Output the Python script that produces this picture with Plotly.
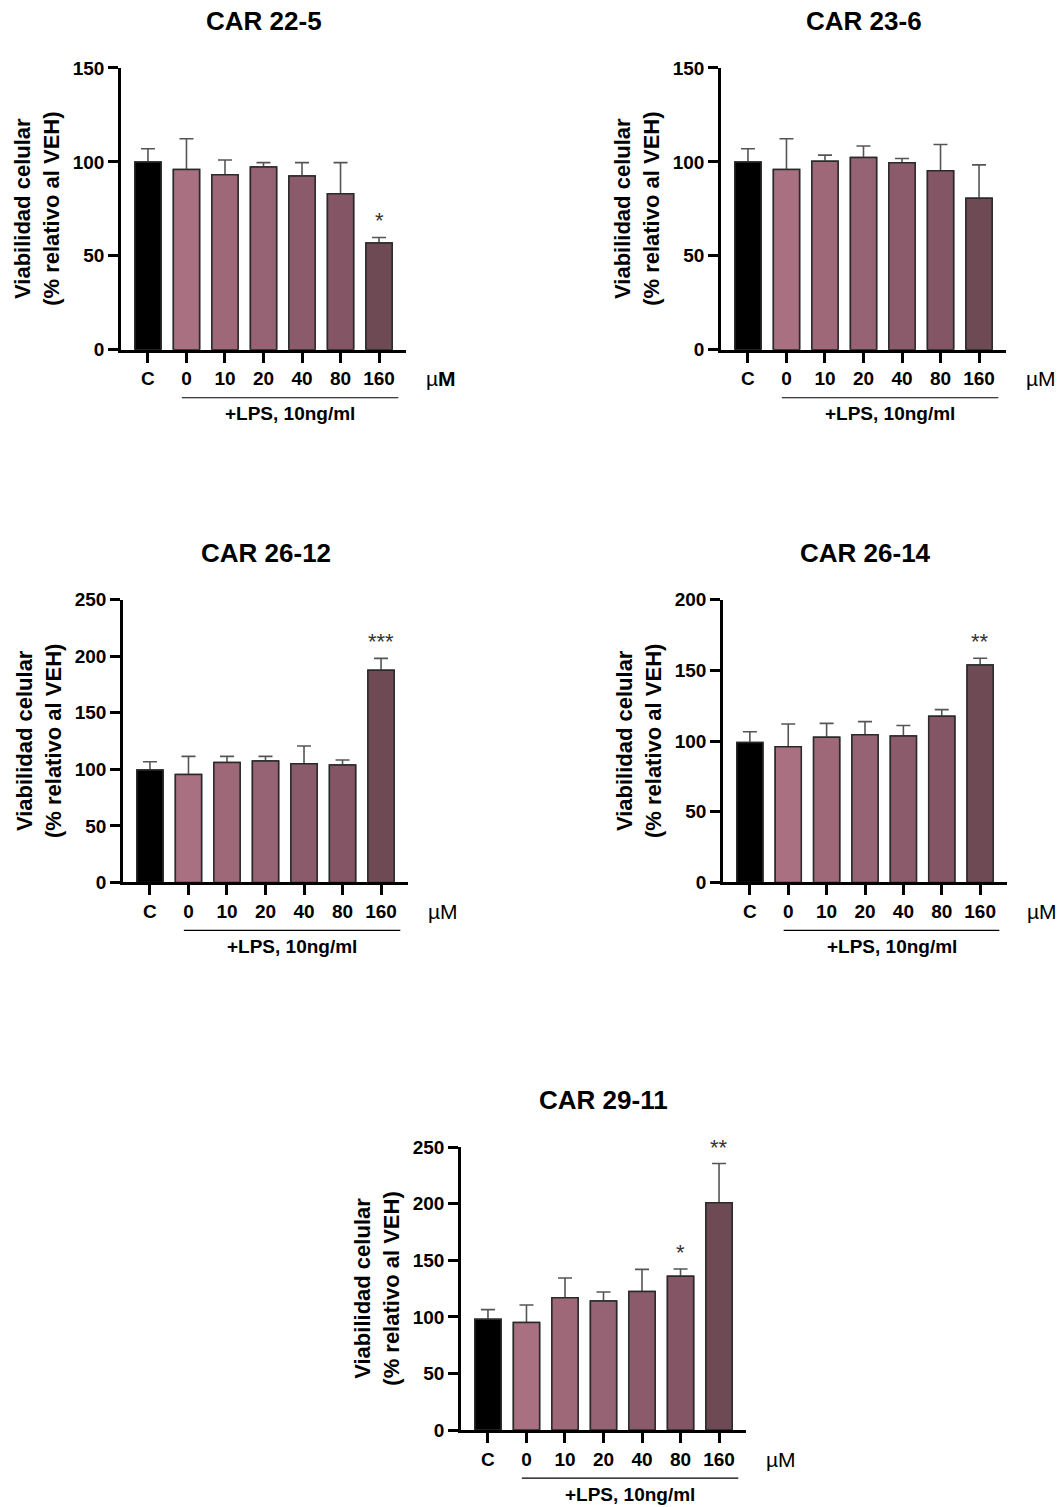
import plotly.graph_objects as go

# ---------------- data ----------------
categories = ["C", "0", "10", "20", "40", "80", "160"]
panel_titles = ["CAR 22-5", "CAR 23-6", "CAR 26-12", "CAR 26-14", "CAR 29-11"]

car22_5_mean = [100, 96, 93.2, 97.3, 92.5, 83, 56.8]
car22_5_sem = [7, 16.3, 7.8, 2.3, 7.1, 16.6, 3.0]
car22_5_sig = ["", "", "", "", "", "", "*"]

car23_6_mean = [100, 96, 100.4, 102.3, 99.5, 95.3, 80.6]
car23_6_sem = [7, 16.3, 3.2, 6.2, 2.3, 14, 17.8]
car23_6_sig = ["", "", "", "", "", "", ""]

car26_12_mean = [99.4, 95.5, 106.1, 107.3, 105, 103.8, 187.5]
car26_12_sem = [7.3, 15.9, 5.3, 4.1, 15.6, 4.4, 10.6]
car26_12_sig = ["", "", "", "", "", "", "***"]

car26_14_mean = [99, 96, 102.6, 104.5, 103.5, 117.5, 153.8]
car26_14_sem = [7.6, 16, 9.9, 9.2, 7.5, 4.7, 4.7]
car26_14_sig = ["", "", "", "", "", "", "**"]

car29_11_mean = [97.9, 95, 117, 114.1, 122.4, 135.9, 200.9]
car29_11_sem = [8.6, 15.6, 17.4, 7.9, 19.7, 6.5, 34.7]
car29_11_sig = ["", "", "", "", "", "*", "**"]

y_max = [150, 150, 250, 200, 250]
y_step = [50, 50, 50, 50, 50]

bar_colors = ["#000000", "#A87080", "#9E6879", "#956373", "#8B5B6B", "#835565", "#6E4A55"]

# ---------------- layout geometry (target pixels) ----------------
W = 1062
HF = 1540
Y0, YS = 9.0, 0.987   # observed page offset / scale of the rendered figure
boxes = [  # left, top, right, bottom of plot area
    (121, 67, 406, 349),
    (721, 67, 1006, 349),
    (123, 599, 408, 882),
    (723, 599, 1007, 882),
    (461, 1147, 746, 1430),
]
FONT = "Liberation Sans, Arial, sans-serif"

def px(x):
    return x / W

def py(y):
    return 1 - ((y - Y0) / YS) / HF

means = [car22_5_mean, car23_6_mean, car26_12_mean, car26_14_mean, car29_11_mean]
sems = [car22_5_sem, car23_6_sem, car26_12_sem, car26_14_sem, car29_11_sem]
sigs = [car22_5_sig, car23_6_sig, car26_12_sig, car26_14_sig, car29_11_sig]

fig = go.Figure()
annotations = []
shapes = []
xs = list(range(len(categories)))

for i in range(5):
    l, t, r, b = boxes[i]
    xa = "x" if i == 0 else f"x{i+1}"
    ya = "y" if i == 0 else f"y{i+1}"
    xkey = "xaxis" if i == 0 else f"xaxis{i+1}"
    ykey = "yaxis" if i == 0 else f"yaxis{i+1}"

    # error bars (symmetric, lower half hidden by the bar trace drawn on top)
    fig.add_trace(go.Bar(
        x=xs, y=means[i], width=0.68, xaxis=xa, yaxis=ya,
        marker=dict(color=bar_colors, line=dict(color="#2a2a2a", width=1.5)),
        error_y=dict(type="data", array=sems[i], visible=True,
                     color="#555555", thickness=1.6, width=7),
        showlegend=False, hoverinfo="skip",
    ))
    fig.add_trace(go.Bar(
        x=xs, y=means[i], width=0.68, xaxis=xa, yaxis=ya,
        marker=dict(color=bar_colors, line=dict(color="#2a2a2a", width=1.5)),
        showlegend=False,
    ))

    fig.update_layout(**{
        xkey: dict(domain=[px(l), px(r)], anchor=ya, range=[-0.7, 6.7],
                   tickvals=xs, ticktext=categories, showline=True,
                   linecolor="black", linewidth=2.5, ticks="outside",
                   ticklen=10, tickwidth=2.5, tickcolor="black",
                   showgrid=False, zeroline=False,
                   tickfont=dict(family=FONT, size=19, color="black", weight="bold")),
        ykey: dict(domain=[py(b), py(t)], anchor=xa, range=[0, y_max[i]],
                   dtick=y_step[i], tick0=0, showline=True,
                   linecolor="black", linewidth=2.5, ticks="outside",
                   ticklen=10, tickwidth=2.5, tickcolor="black",
                   showgrid=False, zeroline=False,
                   tickfont=dict(family=FONT, size=19, color="black", weight="bold")),
    })

    cx = (l + r) / 2
    # panel title
    annotations.append(dict(text="<b>" + panel_titles[i] + "</b>", x=px(cx), y=py(t - 47),
                            xref="paper", yref="paper", showarrow=False,
                            font=dict(family=FONT, size=26, color="black"),
                            xanchor="center", yanchor="middle"))
    # y-axis title
    annotations.append(dict(text="<b>Viabilidad celular<br>(% relativo al VEH)</b>",
                            x=px(l - 84), y=py((t + b) / 2), xref="paper", yref="paper",
                            showarrow=False, textangle=-90,
                            font=dict(family=FONT, size=22, color="black"),
                            xanchor="center", yanchor="middle"))
    # µM unit
    unit = "µ<b>M</b>" if i == 0 else "µM"
    annotations.append(dict(text=unit, x=px(r + 35), y=py(b + 29), xref="paper", yref="paper",
                            showarrow=False, font=dict(family=FONT, size=21, color="black"),
                            xanchor="center", yanchor="middle"))
    # LPS bracket
    shapes.append(dict(type="line", xref=xa, yref="paper", x0=0.88, x1=6.5,
                       y0=py(b + 48), y1=py(b + 48), line=dict(color="black", width=1.2)))
    annotations.append(dict(text="<b>+LPS, 10ng/ml</b>", xref=xa, yref="paper", x=3.7,
                            y=py(b + 64), showarrow=False,
                            font=dict(family=FONT, size=19, color="black"),
                            xanchor="center", yanchor="middle"))
    # significance stars
    for j, s in enumerate(sigs[i]):
        if s:
            annotations.append(dict(text=s, xref=xa, yref=ya, x=j,
                                    y=means[i][j] + sems[i][j], yshift=2,
                                    showarrow=False, xanchor="center", yanchor="bottom",
                                    font=dict(family=FONT, size=22, color="#333333")))

fig.update_layout(
    width=W, height=HF, margin=dict(l=0, r=0, t=0, b=0),
    paper_bgcolor="white", plot_bgcolor="white",
    barmode="overlay", annotations=annotations, shapes=shapes,
)

fig.write_html("out.html")
